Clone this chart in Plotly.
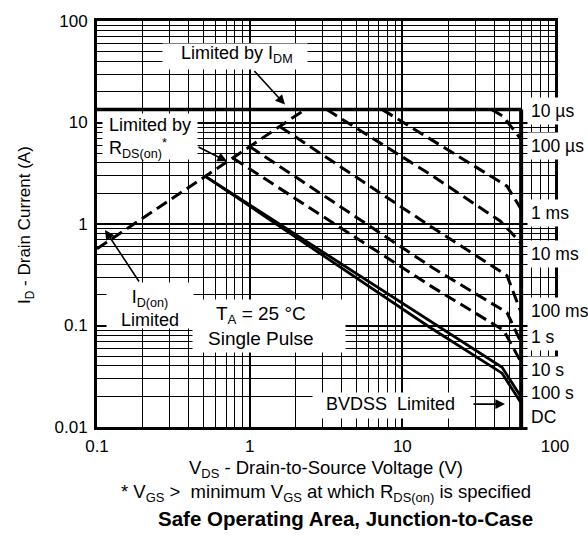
import plotly.graph_objects as go

# ---------------- data ----------------
rds_v = [0.1, 2.3]            # R_DS(on) / I_D(on) limit (dashed)
rds_i = [0.57, 13.4]
idm_v = [0.1, 60]             # I_DM limit (10 us)
idm_i = [13.4, 13.4]
bv_v = [60, 60]               # BVDSS limit
bv_i = [13.4, 0.01]

v_100us = [38.6, 45.7, 60]
i_100us = [13.4, 11.5, 6.8]
v_1ms = [7.4, 48.5, 60]
i_1ms = [13.4, 2.36, 1.40]
v_10ms = [3.2, 15.2, 43.7, 60]
i_10ms = [13.4, 3.09, 1.07, 0.65]
v_100ms = [1.58, 15.2, 48.5, 60]
i_100ms = [9.1, 0.955, 0.31, 0.134]
v_1s = [1.0, 15.8, 48.5, 60]
i_1s = [5.8, 0.37, 0.134, 0.068]
v_10s = [0.78, 15.2, 46, 60]
i_10s = [4.44, 0.247, 0.09, 0.0434]
v_100s = [0.51, 15.2, 45, 60]
i_100s = [2.96, 0.109, 0.0387, 0.0197]
v_dc = [0.51, 15.2, 45, 60]
i_dc = [2.96, 0.0956, 0.0339, 0.0172]

x_tickvals = [0.1, 1, 10, 100]
x_ticktext = ["0.1", "1", "10", "100"]
y_tickvals = [0.01, 0.1, 1, 10, 100]
y_ticktext = ["0.01", "0.1", "1", "10", "100"]
x_minor = [m * d for d in (0.1, 1, 10) for m in range(2, 10)]
y_minor = [m * d for d in (0.01, 0.1, 1, 10) for m in range(2, 10)]

curve_labels = ["10 µs", "100 µs", "1 ms", "10 ms", "100 ms", "1 s", "10 s", "100 s", "DC"]
label_ypix = [109, 145, 212, 253, 310, 337, 370, 393, 417]

# ---------------- figure ----------------
W, H = 588, 542
L, R, T, B = 97, 555, 19, 427   # plot area in window pixels
FONT = "Liberation Sans"


def px(xp):
    return (xp - L) / (R - L)


def py(yp):
    return (B - yp) / (B - T)


fig = go.Figure()

dash = dict(color="black", width=3, dash="12px,6px")
fig.add_trace(go.Scatter(x=rds_v, y=rds_i, mode="lines", line=dash))
for vv, ii in [(v_100us, i_100us), (v_1ms, i_1ms), (v_10ms, i_10ms),
               (v_100ms, i_100ms), (v_1s, i_1s), (v_10s, i_10s)]:
    fig.add_trace(go.Scatter(x=vv, y=ii, mode="lines", line=dash))
for vv, ii in [(v_100s, i_100s), (v_dc, i_dc)]:
    fig.add_trace(go.Scatter(x=vv, y=ii, mode="lines",
                             line=dict(color="black", width=2.8)))
fig.add_trace(go.Scatter(x=idm_v, y=idm_i, mode="lines",
                         line=dict(color="black", width=3.5)))
fig.add_trace(go.Scatter(x=bv_v, y=bv_i, mode="lines",
                         line=dict(color="black", width=4)))

ann = []


def box(x0, y0, x1, y1):
    ann.append(dict(text=" ", x=px((x0 + x1) / 2), y=py((y0 + y1) / 2),
                    xref="paper", yref="paper", showarrow=False,
                    width=x1 - x0, height=y1 - y0, bgcolor="white",
                    borderpad=0, xanchor="center", yanchor="middle"))


def txt(s, xp, yp, size=18, xanchor="center", bold=False, angle=0, align="center"):
    ann.append(dict(text=("<b>%s</b>" % s) if bold else s, x=px(xp), y=py(yp),
                    xref="paper", yref="paper", showarrow=False,
                    xanchor=xanchor, yanchor="middle", textangle=angle, align=align,
                    font=dict(family=FONT, size=size, color="black")))


def arrow(tipx, tipy, tailx, taily):
    ann.append(dict(text="", x=px(tipx), y=py(tipy), xref="paper", yref="paper",
                    showarrow=True, ax=tailx - tipx, ay=taily - tipy,
                    arrowhead=2, arrowsize=1.2, arrowwidth=1.6, arrowcolor="black",
                    standoff=0, startstandoff=0))


# label boxes (cover grid)
box(163, 42, 307, 67)
box(103, 113, 197, 158)
box(107, 282, 193, 327)
box(193, 300, 345, 352)
box(313, 393, 470, 418)

txt("Limited by I<sub>DM</sub>", 237, 53)
txt("Limited by<br>R<sub>DS(on)</sub><sup>*</sup>", 107, 137, xanchor="left", align="left")
txt("I<sub>D(on)</sub><br>Limited", 150, 308)
txt("T<sub>A</sub> = 25 °C<br>Single Pulse", 261, 325, size=19)
txt("BVDSS  Limited", 390, 404)

arrow(285, 103, 253, 68)
arrow(227, 160, 197, 145)
arrow(105, 229, 140, 282)
arrow(505, 404, 472, 404)

for lab, yl in zip(curve_labels, label_ypix):
    ann.append(dict(text=lab, x=px(527), y=py(yl), xref="paper", yref="paper",
                    showarrow=False, xanchor="left", yanchor="middle",
                    bgcolor="white", borderpad=3,
                    font=dict(family=FONT, size=17.5, color="black")))

txt("V<sub>DS</sub> - Drain-to-Source Voltage (V)<br>"
    "* V<sub>GS</sub> >  minimum V<sub>GS</sub> at which R<sub>DS(on)</sub> is specified",
    326, 481, size=18.5)
txt("Safe Operating Area, Junction-to-Case", 345, 519, size=20.5, bold=True)
txt("I<sub>D</sub> - Drain Current (A)", 26, 224, size=17, angle=-90)

axis_common = dict(
    type="log", showgrid=True, gridcolor="black", gridwidth=2,
    showline=True, linecolor="black", linewidth=3, mirror=True,
    ticks="", zeroline=False,
    tickfont=dict(family=FONT, size=17, color="black"),
)

fig.update_xaxes(**axis_common, range=[-1, 2], tickmode="array",
                 tickvals=x_tickvals, ticktext=x_ticktext, ticklabelstandoff=2,
                 minor=dict(tickvals=x_minor, showgrid=True, gridcolor="black",
                            gridwidth=1, ticks=""))
fig.update_yaxes(**axis_common, range=[-2, 2], tickmode="array",
                 tickvals=y_tickvals, ticktext=y_ticktext, ticklabelstandoff=3,
                 minor=dict(tickvals=y_minor, showgrid=True, gridcolor="black",
                            gridwidth=1, ticks=""))

fig.update_layout(
    width=W, height=H, autosize=False,
    margin=dict(l=L, r=W - R, t=T, b=H - B, pad=0),
    paper_bgcolor="white", plot_bgcolor="white",
    showlegend=False, annotations=ann,
    font=dict(family=FONT, color="black"),
)

# remove the default 8px page margin so the figure fills the window exactly
fig.write_html("out.html", config={"displayModeBar": False},
               post_script="document.body.style.margin='0px';")
